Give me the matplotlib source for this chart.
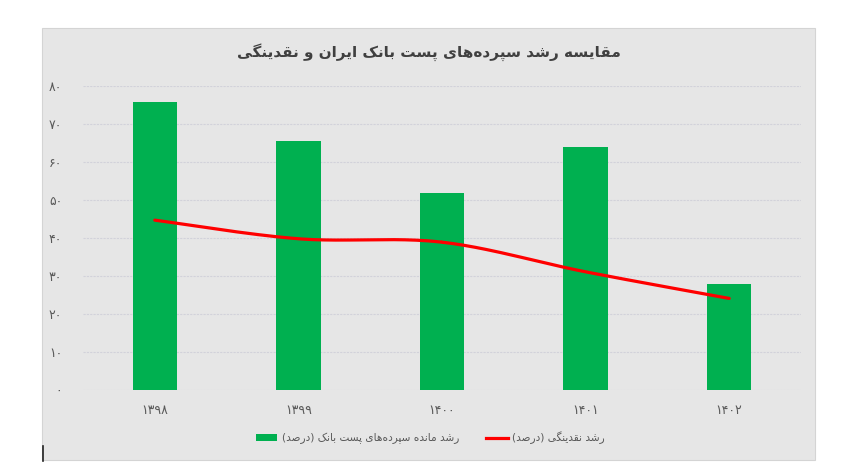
import numpy as np
import matplotlib.pyplot as plt
from matplotlib.patches import Rectangle, Patch
from matplotlib.lines import Line2D

# data
years = ['۱۳۹۸', '۱۳۹۹', '۱۴۰۰', '۱۴۰۱', '۱۴۰۲']
deposit_growth = [75.8, 65.5, 51.8, 63.9, 27.9]
liquidity_growth = [44.7, 39.8, 38.9, 31.1, 24.1]
yticks = [0, 10, 20, 30, 40, 50, 60, 70, 80]

title = 'مقایسه رشد سپرده‌های پست بانک ایران و نقدینگی'
label_deposit = 'رشد مانده سپرده‌های پست بانک (درصد)'
label_liquidity = 'رشد نقدینگی (درصد)'

# isolated, final, initial, medial
FORMS = {
    'ا': ('\uFE8D', '\uFE8E', None, None),
    'آ': ('\uFE81', '\uFE82', None, None),
    'ب': ('\uFE8F', '\uFE90', '\uFE91', '\uFE92'),
    'پ': ('\uFB56', '\uFB57', '\uFB58', '\uFB59'),
    'ت': ('\uFE95', '\uFE96', '\uFE97', '\uFE98'),
    'د': ('\uFEA9', '\uFEAA', None, None),
    'ر': ('\uFEAD', '\uFEAE', None, None),
    'ز': ('\uFEAF', '\uFEB0', None, None),
    'س': ('\uFEB1', '\uFEB2', '\uFEB3', '\uFEB4'),
    'ش': ('\uFEB5', '\uFEB6', '\uFEB7', '\uFEB8'),
    'ص': ('\uFEB9', '\uFEBA', '\uFEBB', '\uFEBC'),
    'ق': ('\uFED5', '\uFED6', '\uFED7', '\uFED8'),
    'ک': ('\uFB8E', '\uFB8F', '\uFB90', '\uFB91'),
    'گ': ('\uFB92', '\uFB93', '\uFB94', '\uFB95'),
    'ل': ('\uFEDD', '\uFEDE', '\uFEDF', '\uFEE0'),
    'م': ('\uFEE1', '\uFEE2', '\uFEE3', '\uFEE4'),
    'ن': ('\uFEE5', '\uFEE6', '\uFEE7', '\uFEE8'),
    'و': ('\uFEED', '\uFEEE', None, None),
    'ه': ('\uFEE9', '\uFEEA', '\uFEEB', '\uFEEC'),
    'ی': ('\uFBFC', '\uFBFD', '\uFBFE', '\uFBFF'),
}


def fa(text):
    # simple shaping + reversal for right-to-left text
    out = []
    for i, ch in enumerate(text):
        if ch not in FORMS:
            out.append(ch)
            continue
        prev = text[i - 1] if i > 0 else None
        nxt = text[i + 1] if i < len(text) - 1 else None
        join_prev = prev in FORMS and FORMS[prev][2] is not None
        join_next = nxt in FORMS and FORMS[ch][2] is not None
        iso, fin, ini, med = FORMS[ch]
        if join_prev and join_next:
            out.append(med)
        elif join_prev:
            out.append(fin)
        elif join_next:
            out.append(ini)
        else:
            out.append(iso)
    s = ''.join(out).replace('\u200c', '')[::-1]
    return s.translate(str.maketrans('()', ')('))


def smooth(ys, n=40):
    pts = np.column_stack([np.arange(len(ys)), ys]).astype(float)
    p = np.vstack([pts[0], pts, pts[-1]])
    t = np.linspace(0, 1, n)[:, None]
    segs = []
    for i in range(1, len(p) - 2):
        p0, p1, p2, p3 = p[i - 1], p[i], p[i + 1], p[i + 2]
        segs.append(0.5 * (2 * p1 + (-p0 + p2) * t
                           + (2 * p0 - 5 * p1 + 4 * p2 - p3) * t ** 2
                           + (-p0 + 3 * p1 - 3 * p2 + p3) * t ** 3))
    c = np.vstack(segs)
    return c[:, 0], c[:, 1]


plt.rcParams['font.family'] = ['DejaVu Sans']
bg = '#e6e6e6'
green = '#00b050'
red = '#ff0000'
txt = '#595959'

fig = plt.figure(figsize=(8.44, 4.76), dpi=100)
fig.patch.set_facecolor('white')
fig.patches.append(Rectangle((42 / 844, 1 - 460 / 476), (815 - 42) / 844, (460 - 28) / 476,
                             transform=fig.transFigure, facecolor=bg,
                             edgecolor='#d4d4d4', linewidth=0.8, zorder=-5))
# small dark mark at the lower left edge of the panel
fig.lines.append(Line2D([42.5 / 844, 42.5 / 844], [1 - 461 / 476, 1 - 446 / 476],
                        transform=fig.transFigure, color='#222222', linewidth=1.2))

ax = fig.add_axes([83 / 844, 1 - 390 / 476, (801 - 83) / 844, (390 - 86) / 476])
ax.set_zorder(2)
ax.set_facecolor(bg)
x = np.arange(len(years))
ax.bar(x, deposit_growth, width=0.31, color=green, zorder=2)
sx, sy = smooth(liquidity_growth)
ax.plot(sx, sy, color=red, linewidth=2.3, solid_capstyle='round', zorder=3)

ax.set_xlim(-0.5, len(years) - 0.5)
ax.set_ylim(0, 80)
ax.set_yticks(yticks)
ax.set_yticklabels([str(v).translate(str.maketrans('0123456789', '۰۱۲۳۴۵۶۷۸۹')) for v in yticks])
ax.set_xticks(x)
ax.set_xticklabels(years)
ax.tick_params(length=0, colors=txt, labelsize=9)
ax.tick_params(axis='y', pad=15)
ax.tick_params(axis='x', pad=10)
ax.grid(axis='y', color='#d2d2da', linestyle=(0, (2, 1)), linewidth=0.8, zorder=1)
for s in ax.spines.values():
    s.set_visible(False)

fig.text(0.508, 1 - 52 / 476, fa(title), ha='center', va='center',
         fontsize=11, fontweight='bold', color='#404040', zorder=3)

handles = [Patch(facecolor=green, edgecolor='none'),
           Line2D([0], [0], color=red, linewidth=2.3)]
leg = fig.legend(handles, [fa(label_deposit), fa(label_liquidity)],
                 loc='center', bbox_to_anchor=(0.51, 1 - 438 / 476), ncol=2,
                 frameon=False, fontsize=7.6, labelcolor=txt, handlelength=2.0,
                 handletextpad=0.4, columnspacing=2.6)
leg.set_zorder(3)

fig.savefig('out.png', dpi=100, facecolor='white')
